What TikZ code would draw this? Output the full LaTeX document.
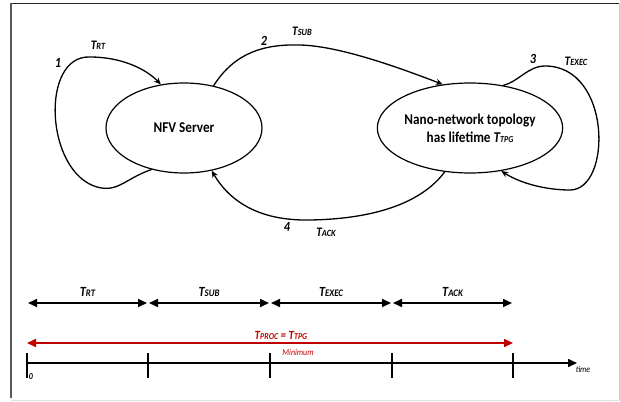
\documentclass[tikz,border=0pt]{standalone}
\usepackage{fontspec}
\setmainfont{Carlito}[FakeStretch=0.88]
\usetikzlibrary{positioning, arrows.meta, shapes.geometric}
\definecolor{procred}{RGB}{192,0,0}
% T with its small-caps index
\newcommand{\tname}[2][9.5]{T{\fontsize{#1}{#1}\selectfont #2}}

\begin{document}
\begin{tikzpicture}[
  x=1pt, y=-1pt,
  state/.style={draw, ellipse, line width=1.2pt, minimum width=156pt, minimum height=90pt, inner sep=0pt, align=center, font=\fontsize{15}{18}\selectfont\bfseries},
  loop/.style={line width=1.3pt, -{Stealth[length=7pt, width=6pt]}},
  num/.style={font=\fontsize{14}{14}\selectfont\bfseries\itshape},
  tlab/.style={font=\fontsize{13}{13}\selectfont\bfseries\itshape},
  span/.style={line width=1.6pt, {Triangle[length=9pt, width=8pt]}-{Triangle[length=9pt, width=8pt]}},
  small/.style={font=\fontsize{9}{9}\selectfont\itshape},
]
  \useasboundingbox (0,0) rectangle (620,401);
  % frame
  \draw[line width=1.6pt, black!85] (10,3.6) -- (619,3.6);
  \draw[line width=2pt, black!65] (11,3) -- (11,398);
  \draw[line width=0.8pt, black!18] (619,3) -- (619,400);
  \draw[line width=0.8pt, black!12] (11,400) -- (619,400);
  % the two states
  \node[state] (nfv)  at (184,128) {NFV Server};
  \node[state] (nano) at (470,128) {Nano-network topology\\has lifetime \textit{\tname[9]{TPG}}};
  % 1: round trip
  \draw[loop] (nfv.232) .. controls (126,178) and (118,193) .. (97,187)
    .. controls (45,172) and (40,55) .. (90,57)
    .. controls (120,57) and (145,68) .. (nfv.118);
  % 2: submit
  \draw[loop] (nfv.55) .. controls (235,52) and (265,44) .. (300,45)
    .. controls (340,46) and (400,68) .. (nano.122);
  % 3: execute
  \draw[loop] (nano.52) .. controls (518,82) and (528,66) .. (545,66)
    .. controls (612,66) and (612,190) .. (570,190)
    .. controls (545,190) and (520,183) .. (nano.306);
  % 4: acknowledge
  \draw[loop] (nano.240) .. controls (420,205) and (370,219) .. (310,220)
    .. controls (260,221) and (230,202) .. (nfv.303);
  % loop labels
  \node[num]  (n1) at (58,63)   {1};
  \node[tlab] (l1) at (98,45)   {\tname{RT}};
  \node[num]  (n2) at (264,41)  {2};
  \node[tlab] (l2) at (302,31)  {\tname{SUB}};
  \node[num]  (n3) at (533,59)  {3};
  \node[tlab] (l3) at (576,61)  {\tname{EXEC}};
  \node[num]  (n4) at (287,227) {4};
  \node[tlab] (l4) at (326,232) {\tname{ACK}};
  % time axis
  \foreach \i/\x in {0/27, 1/148, 2/270, 3/392, 4/513} {
    \coordinate (t\i) at (\x,363);
    \draw[line width=1.2pt] (\x,353) -- (\x,378);
  }
  \coordinate (tend) at (577,363);
  \draw[line width=1.6pt, -{Triangle[length=9pt, width=8pt]}] (t0) -- (tend);
  \node[small, font=\fontsize{9}{9}\selectfont\bfseries\itshape] (zero) at (31,377) {0};
  \node[small] (time) at (583,369) {time};
  % phases
  \foreach \a/\b/\lab in {0/1/RT, 1/2/SUB, 2/3/EXEC, 3/4/ACK} {
    \draw[span] ([xshift=1pt, yshift=60pt]t\a) -- node[tlab, above=2pt, font=\fontsize{14}{14}\selectfont\bfseries\itshape] {\tname[10]{\lab}} ([xshift=-1pt, yshift=60pt]t\b);
  }
  % total processing time
  \draw[span, procred] ([yshift=20pt]t0) -- ([yshift=20pt]t4);
  \node[tlab, procred, font=\fontsize{12.5}{12.5}\selectfont\bfseries\itshape] (proc) at (281,335) {\tname[9]{PROC} = \tname[9]{TPG}};
  \node[small, procred] (mini) at (298,352) {Minimum};
\end{tikzpicture}
\end{document}
